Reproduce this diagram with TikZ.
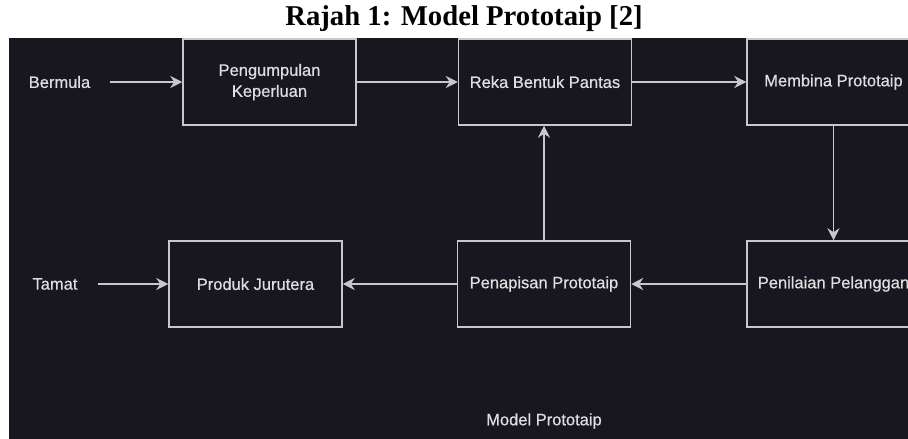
\documentclass[tikz,border=0pt]{standalone}
\usepackage{fontspec}
\setmainfont{Liberation Serif}
\newfontfamily\diagfont{Liberation Sans}[FakeBold=0.7]
\usetikzlibrary{arrows.meta}
\definecolor{bgdark}{RGB}{24,22,31}
\definecolor{linegray}{RGB}{200,200,200}
\definecolor{txtgray}{RGB}{222,222,222}
\begin{document}
\begin{tikzpicture}[x=1pt,y=-1pt,
  stepbox/.style={draw=linegray, line width=1.5pt, minimum width=173pt, minimum height=86pt,
    inner sep=0pt, text=txtgray, font=\diagfont\fontsize{16.5}{21}\selectfont, align=center},
  plain/.style={text=txtgray, font=\diagfont\fontsize{16.5}{21}\selectfont, inner sep=0pt},
  conn/.style={draw=linegray, line width=1.5pt, -{Stealth[length=12pt,width=12pt,inset=4pt]}}
]
\clip (0,0) rectangle (908,439);
\fill[white] (0,0) rectangle (908,439);
\fill[bgdark] (9,38) rectangle (908,439);
\node[font=\bfseries\fontsize{28.7}{30}\selectfont, inner sep=0pt] (title) at (464,19) {Rajah 1: Model Prototaip [2]};

\node[stepbox] (peng) at (269.5,82) {Pengumpulan\\Keperluan};
\node[stepbox] (reka) at (545,82) {Reka Bentuk Pantas};
\node[stepbox] (bina) at (833.5,82) {Membina Prototaip};
\node[stepbox] (nilai) at (833.5,284) {Penilaian Pelanggan};
\node[stepbox] (tapis) at (544,284) {Penapisan Prototaip};
\node[stepbox] (produk) at (255.5,284) {Produk Jurutera};

\node[plain] (mula) at (59.5,82) {Bermula};
\node[plain] (tamat) at (55,284) {Tamat};
\node[plain] (cap) at (544,421) {Model Prototaip};

\draw[conn] ([xshift=20pt]mula.east) -- (peng.west);
\draw[conn] ([xshift=20pt]tamat.east) -- (produk.west);
\draw[conn] (peng.east) -- (reka.west);
\draw[conn] (reka.east) -- (bina.west);
\draw[conn] (bina.south) -- (nilai.north);
\draw[conn] (nilai.west) -- (tapis.east);
\draw[conn] (tapis.west) -- (produk.east);
\draw[conn] (tapis.north) -- (tapis.north |- reka.south);
\end{tikzpicture}
\end{document}
